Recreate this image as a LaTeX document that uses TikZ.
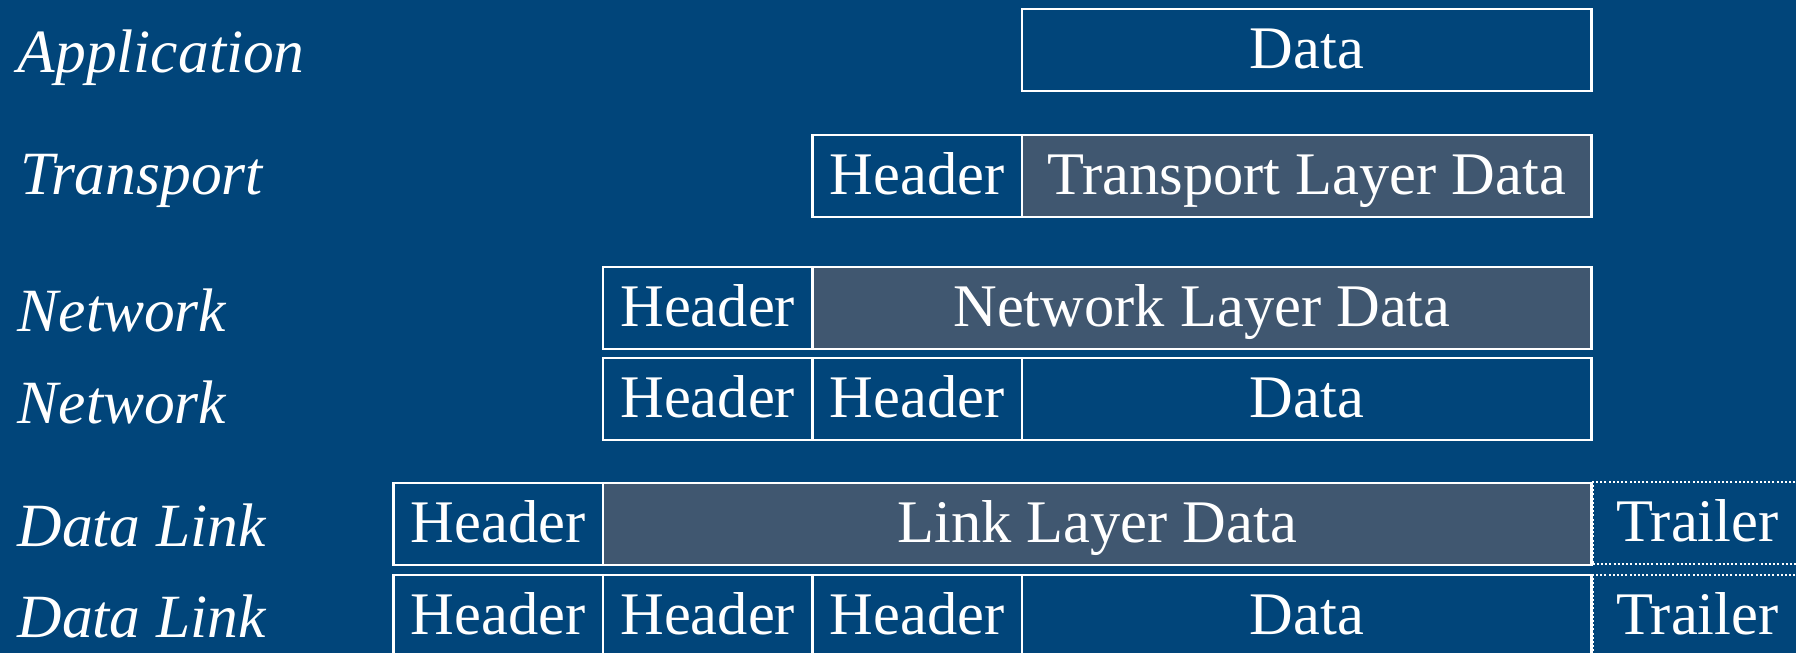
\documentclass[tikz,border=0pt]{standalone}
\usepackage{fontspec}
\setmainfont{Liberation Serif}
\definecolor{bgblue}{RGB}{1,69,122}
\definecolor{payload}{RGB}{64,87,112}
\tikzset{
  cell/.style={draw=white, line width=2.5pt, inner sep=0pt, outer sep=0pt,
    anchor=north west, minimum height=82pt, text=white,
    font=\fontsize{60.5}{70}\selectfont, text height=44pt, text depth=8pt},
  hdr/.style={cell, minimum width=209.5pt},
  body/.style={cell, fill=payload},
  plain/.style={cell},
  trailer/.style={cell, draw=white, line width=2pt, dash pattern=on 2pt off 2.2pt,
    minimum width=209.5pt},
  layer/.style={anchor=base west, inner sep=0pt, text=white,
    font=\fontsize{61.5}{70}\selectfont\itshape}
}
\begin{document}
\begin{tikzpicture}[x=1pt, y=-1pt]
  \fill[bgblue] (0,0) rectangle (1796,653);
  \useasboundingbox (0,0) rectangle (1796,653);

  % layer names
  \node[layer] (lApp) at (17.5,72) {Application};
  \node[layer] (lTra) at (20,194) {Transport};
  \node[layer] (lNet1) at (17.5,331) {Network};
  \node[layer] (lNet2) at (17.5,423) {Network};
  \node[layer] (lDl1) at (17.5,546) {Data Link};
  \node[layer] (lDl2) at (17.5,637) {Data Link};

  % application
  \node[plain, minimum width=569.5pt] (appData) at (1022,9) {Data};

  % transport
  \node[hdr] (trH) at (812.5,135) {Header};
  \node[body, minimum width=569.5pt] (trData) at (1022,135) {Transport Layer Data};

  % network, encapsulated
  \node[hdr] (n1H) at (603,267) {Header};
  \node[body, minimum width=779pt] (n1Data) at (812.5,267) {Network Layer Data};

  % network, expanded
  \node[hdr] (n2H1) at (603,358) {Header};
  \node[hdr] (n2H2) at (812.5,358) {Header};
  \node[plain, minimum width=569.5pt] (n2Data) at (1022,358) {Data};

  % data link, encapsulated
  \node[hdr] (d1H) at (393.5,483) {Header};
  \node[body, minimum width=988.5pt] (d1Data) at (603,483) {Link Layer Data};
  \node[trailer] (d1T) at (1592.5,482) {Trailer};

  % data link, expanded
  \node[hdr] (d2H1) at (393.5,575) {Header};
  \node[hdr] (d2H2) at (603,575) {Header};
  \node[hdr] (d2H3) at (812.5,575) {Header};
  \node[plain, minimum width=569.5pt] (d2Data) at (1022,575) {Data};
  \node[trailer] (d2T) at (1592.5,575) {Trailer};
\end{tikzpicture}
\end{document}
